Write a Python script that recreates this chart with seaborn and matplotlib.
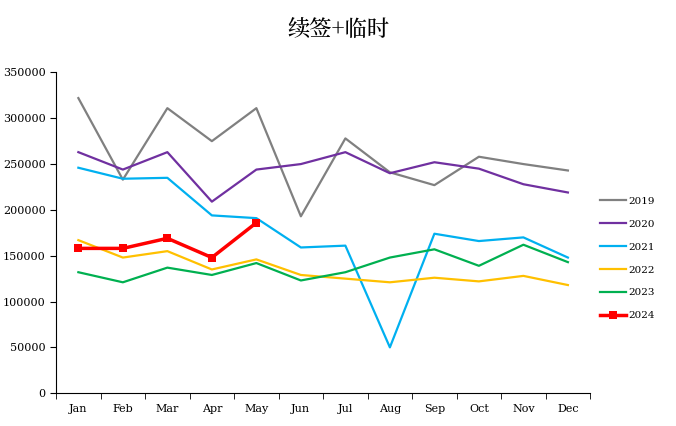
import seaborn as sns
import matplotlib.pyplot as plt
from matplotlib import font_manager
import pandas as pd
import numpy as np

months = ['Jan', 'Feb', 'Mar', 'Apr', 'May', 'Jun', 'Jul', 'Aug', 'Sep', 'Oct', 'Nov', 'Dec']
v2019 = [322000, 233000, 311000, 275000, 311000, 193000, 278000, 241000, 227000, 258000, 250000, 243000]
v2020 = [263000, 244000, 263000, 209000, 244000, 250000, 263000, 240000, 252000, 245000, 228000, 219000]
v2021 = [246000, 234000, 235000, 194000, 191000, 159000, 161000, 50000, 174000, 166000, 170000, 148000]
v2022 = [167000, 148000, 155000, 135000, 146000, 129000, 125000, 121000, 126000, 122000, 128000, 118000]
v2023 = [132000, 121000, 137000, 129000, 142000, 123000, 132000, 148000, 157000, 139000, 162000, 143000]
v2024 = [158000, 158000, 169000, 148000, 186000]

series = {'2019': v2019, '2020': v2020, '2021': v2021, '2022': v2022, '2023': v2023, '2024': v2024}
colors = {'2019': '#808080', '2020': '#7030A0', '2021': '#00B0F0',
          '2022': '#FFC000', '2023': '#00B050', '2024': '#FF0000'}

rows = []
for year, vals in series.items():
    for i, v in enumerate(vals):
        rows.append({'x': i, 'value': v, 'year': year})
df = pd.DataFrame(rows)

# find a CJK font file for the title
cjk = None
for f in font_manager.findSystemFonts():
    if 'CJK' in f and ('SC' in f or 'Regular' in f or '.ttc' in f):
        cjk = font_manager.FontProperties(fname=f, size=16)
        break
if cjk is None:
    cjk = font_manager.FontProperties(family='Noto Sans CJK SC', size=16)

plt.rcParams['font.family'] = 'DejaVu Serif'
fig, ax = plt.subplots(figsize=(6.76, 4.26), dpi=100)
fig.subplots_adjust(left=0.083, right=0.873, top=0.83, bottom=0.077)

for year in series:
    d = df[df['year'] == year]
    if year == '2024':
        sns.lineplot(data=d, x='x', y='value', ax=ax, color=colors[year], lw=2.5,
                     marker='s', markersize=6, markeredgewidth=0, label=year)
    else:
        sns.lineplot(data=d, x='x', y='value', ax=ax, color=colors[year], lw=1.6, label=year)

ax.set_xlim(-0.5, 11.5)
ax.set_ylim(0, 350000)
ax.set_yticks(np.arange(0, 350001, 50000))
ax.set_xticks(range(12))
ax.set_xticklabels(months)
ax.set_xticks(np.arange(-0.5, 12, 1), minor=True)
ax.tick_params(axis='x', which='major', length=0, labelsize=8, pad=8)
ax.tick_params(axis='x', which='minor', length=4)
ax.tick_params(axis='y', labelsize=8, length=4)
ax.set_xlabel('')
ax.set_ylabel('')
for s in ['top', 'right']:
    ax.spines[s].set_visible(False)
ax.legend(loc='center left', bbox_to_anchor=(1.0, 0.42), frameon=False,
          fontsize=7.5, labelspacing=1.3, handlelength=2.5, handletextpad=0.3,
          borderaxespad=0.5)
fig.suptitle('续签+临时', fontproperties=cjk, y=0.955)
fig.savefig('out.png')
